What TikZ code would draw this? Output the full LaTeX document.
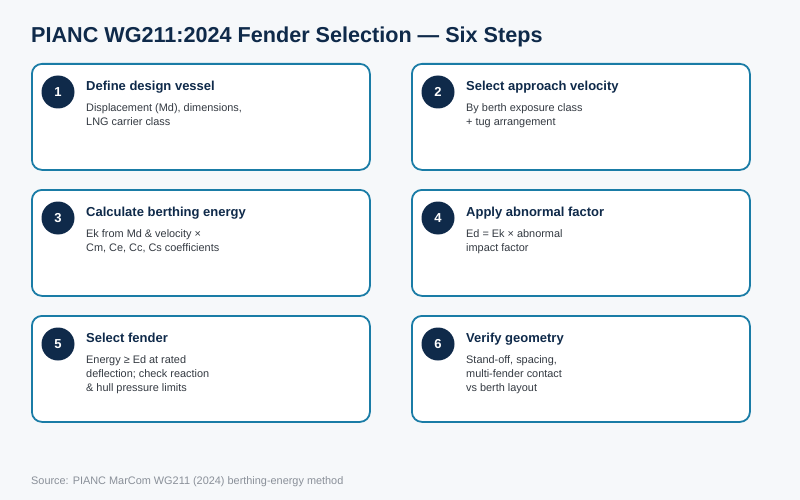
\documentclass[tikz,border=0pt]{standalone}
\usepackage{fontspec}
\setmainfont{Liberation Sans}
\definecolor{bgcol}{HTML}{F6F8FA}
\definecolor{navy}{HTML}{0F2A4A}
\definecolor{edge}{HTML}{1A7CA6}
\definecolor{bodytxt}{HTML}{343A42}
\definecolor{srctxt}{HTML}{8A9099}
\tikzset{
  stepcard/.style={draw=edge, line width=1.8pt, fill=white, rounded corners=10pt, minimum width=338pt, minimum height=106pt, anchor=north west, inner sep=0pt},
  numdot/.style={circle, fill=navy, minimum size=33pt, inner sep=0pt, text=white, font=\fontsize{13}{15}\selectfont\bfseries},
  steptitle/.style={anchor=base west, inner sep=0pt, text=navy, font=\fontsize{13}{15}\selectfont\bfseries},
  stepbody/.style={anchor=base west, inner sep=0pt, text=bodytxt, font=\fontsize{10.9}{14}\selectfont},
}
\newcommand{\cardtext}[1]{\parbox[t]{240pt}{\raggedright #1}}
\begin{document}
\begin{tikzpicture}[x=1pt,y=-1pt]
\path[fill=bgcol] (0,0) rectangle (800,500);
\node[anchor=base west, inner sep=0pt, text=navy, font=\fontsize{21.6}{26}\selectfont\bfseries] (title) at (31,43) {PIANC WG211:2024 Fender Selection — Six Steps};

\foreach \n/\x/\y/\t/\b in {
  1/31/63/{Define design vessel}/{Displacement (Md), dimensions,\\LNG carrier class},
  2/411/63/{Select approach velocity}/{By berth exposure class\\+ tug arrangement},
  3/31/189/{Calculate berthing energy}/{Ek from Md \& velocity ×\\Cm, Ce, Cc, Cs coefficients},
  4/411/189/{Apply abnormal factor}/{Ed = Ek × abnormal\\impact factor},
  5/31/315/{Select fender}/{Energy ≥ Ed at rated\\deflection; check reaction\\\& hull pressure limits},
  6/411/315/{Verify geometry}/{Stand-off, spacing,\\multi-fender contact\\vs berth layout}}{
  \node[stepcard] (card\n) at (\x,\y) {};
  \node[numdot] (num\n) at ([xshift=27pt,yshift=-29pt]card\n.north west) {\n};
  \node[steptitle] (ttl\n) at ([xshift=55pt,yshift=-27.5pt]card\n.north west) {\t};
  \node[stepbody] (body\n) at ([xshift=55pt,yshift=-48.5pt]card\n.north west) {\cardtext{\b}};
}

\node[anchor=base west, inner sep=0pt, text=srctxt, font=\fontsize{10.9}{13}\selectfont] (src) at (31,484) {Source: PIANC MarCom WG211 (2024) berthing-energy method};
\end{tikzpicture}
\end{document}
